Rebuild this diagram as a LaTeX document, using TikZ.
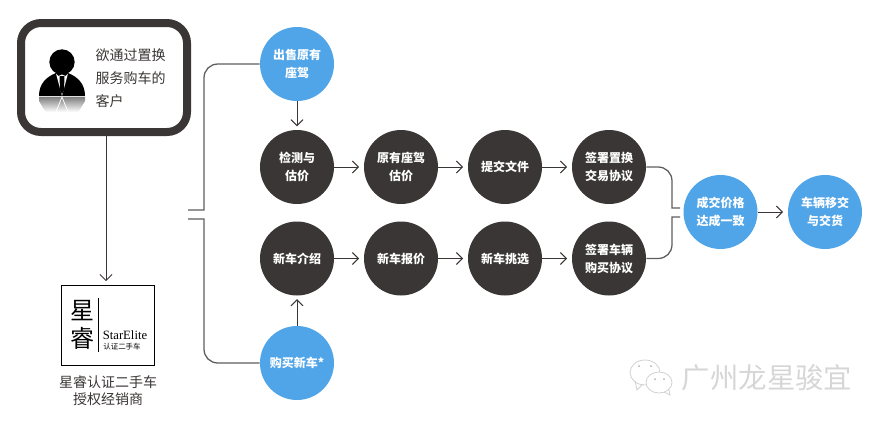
\documentclass[tikz,border=0pt]{standalone}
\usepackage{fontspec}
\setmainfont{Noto Sans CJK SC}
\newfontfamily\logolatin{Liberation Serif}
\usetikzlibrary{arrows,arrows.meta}
\usetikzlibrary{calc}
\definecolor{darkdisc}{HTML}{3A3635}
\definecolor{bluedisc}{HTML}{50A5E8}
\definecolor{linegray}{HTML}{5E5E5E}
\tikzset{>={Straight Barb[length=4.5pt,width=9pt]}}
\tikzstyle{disc} = [circle, minimum size=55.5pt, inner sep=0pt, align=center,
                    text=white, font=\fontsize{9}{13.5}\selectfont\bfseries]
\tikzstyle{dark} = [disc, fill=darkdisc]
\tikzstyle{blue} = [disc, fill=bluedisc]
\tikzstyle{flow} = [->, line width=0.75pt, color=darkdisc, shorten >=2.5pt]
\tikzstyle{bracket} = [line width=0.95pt, color=linegray]

\begin{document}
\begin{tikzpicture}[x=0.75pt,y=-0.75pt]
    \useasboundingbox (0,0) rectangle (879,422);

    % customer box
    \node (customer) [draw=darkdisc, line width=6pt, rounded corners=15pt, minimum width=124.5pt,
        minimum height=81.75pt, inner sep=0pt] at (104,77.5) {};
    \node (wish) [anchor=west, align=left, text=darkdisc, font=\fontsize{10.5}{17.3}\selectfont] at (91,78)
        {欲通过置换\\服务购车的\\客户};

    % the person
    \fill (62,62) circle (12.7);
    \fill (39,96) .. controls (39,84) and (46,77) .. (56,73) -- (68,73)
          .. controls (78,77) and (85,84) .. (85,96) -- cycle;
    \fill[white] (56,73.5) -- (62,96) -- (68,73.5) -- (65.5,76) -- (62,74.5) -- (58.5,76) -- cycle;
    \fill (59.5,76) -- (64.5,76) -- (64,90) -- (62,94) -- (60,90) -- cycle;
    \shade[top color=black!50, bottom color=white] (39,97) -- (85,97) -- (85,101)
          .. controls (82,106) and (80,110) .. (78,112) -- (46,112) .. controls (44,110) and (42,106) .. (39,101) -- cycle;
    \draw[white, line width=0.6pt] (62,97) -- (56,112) (62,97) -- (68,112);

    % logo
    \node (logo) [draw=black, line width=0.75pt, minimum width=69.75pt, minimum height=60pt, inner sep=0pt] at (107.5,325) {};
    \node (xing) [font=\fontsize{18}{18}\selectfont, inner sep=0pt] at (82,311) {星};
    \node (rui) [font=\fontsize{18}{18}\selectfont, inner sep=0pt] at (82,338) {睿};
    \draw[line width=0.6pt] (98,298) -- (98,352);
    \node (elite) [font=\logolatin\fontsize{9.5}{10}\selectfont, inner sep=0pt] at (125,335) {StarElite};
    \node (certified) [font=\fontsize{5.6}{6}\selectfont, inner sep=0pt] at (122,347) {认证二手车};
    \node (dealer) [align=center, text=darkdisc, font=\fontsize{10.5}{12.8}\selectfont, inner sep=0pt] at (108,390.5)
        {星睿认证二手车\\授权经销商};

    % the discs
    \node (sell) [blue] at (297,64) {出售原有\\座驾};
    \node (check) [dark] at (297,167) {检测与\\估价};
    \node (quote) [dark] at (401,167) {原有座驾\\估价};
    \node (files) [dark] at (505,167) {提交文件};
    \node (tradein) [dark] at (609,167) {签署置换\\交易协议};
    \node (intro) [dark] at (297,258.5) {新车介绍};
    \node (offer) [dark] at (401,258.5) {新车报价};
    \node (pick) [dark] at (505,258.5) {新车挑选};
    \node (contract) [dark] at (609,258.5) {签署车辆\\购买协议};
    \node (buy) [blue] at (297,363) {购买新车*};
    \node (price) [blue] at (720.5,212) {成交价格\\达成一致};
    \node (handover) [blue] at (825,212) {车辆移交\\与交货};

    % straight arrows
    \draw[flow] (customer.south -| 106,0) -- (logo.north -| 106,0);
    \foreach \a/\b in {sell/check, buy/intro} {
        \draw[flow] (\a) -- (\b);
    }
    \foreach \a/\b in {check/quote, quote/files, files/tradein, intro/offer, offer/pick, pick/contract, price/handover} {
        \draw[flow, shorten >=3.5pt] (\a) -- (\b);
    }

    % brackets
    \coordinate (leftup) at (188,210);
    \coordinate (leftdown) at (188,219);
    \coordinate (rightup) at (680,208);
    \coordinate (rightdown) at (680,217);
    \draw[bracket] (sell.west) -- (218,64) .. controls (210,64) and (204,70) .. (204,78) -- (204,210) -- (leftup);
    \draw[bracket] (leftdown) -- (204,219) -- (204,349) .. controls (204,357) and (210,363) .. (218,363) -- (buy.west);
    \draw[bracket] (tradein.east) -- (658,167) .. controls (666,167) and (672,173) .. (672,181) -- (672,208) -- (rightup);
    \draw[bracket] (rightdown) -- (672,217) -- (672,244.5) .. controls (672,252.5) and (666,258.5) .. (658,258.5) -- (contract.east);

    % watermark
    \draw[black!18, fill=white, line width=0.6pt] (645,372.5) ellipse (15 and 12.5);
    \draw[black!18, line width=0.6pt] (635,381) -- (637,390) -- (643,384);
    \draw[black!18, fill=white, line width=0.6pt] (659,382.5) ellipse (13 and 10.5);
    \draw[black!18, line width=0.6pt] (664,392) -- (670,395) -- (669,390);
    \fill[black!30] (639,366) circle (1) (651,366) circle (1) (655,379) circle (1) (664,379) circle (1);
    \node (mark) [text=black!16, font=\fontsize{21.3}{21}\selectfont, inner sep=0pt] at (767,378) {广州龙星骏宜};
\end{tikzpicture}
\end{document}
